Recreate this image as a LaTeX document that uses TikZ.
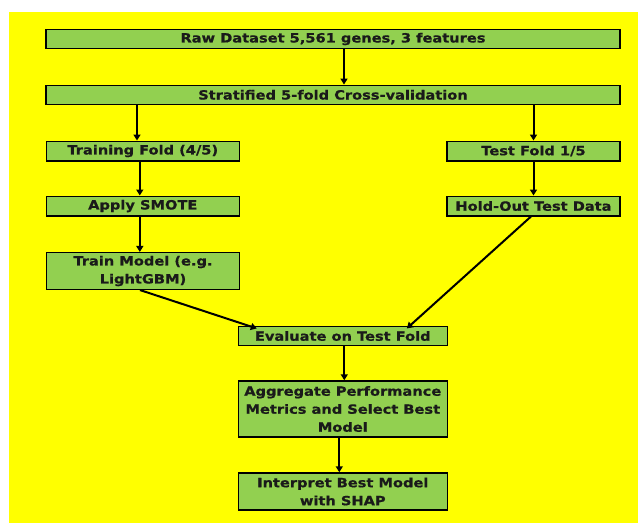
\documentclass[tikz,border=0pt]{standalone}
\usepackage{fontspec}
\setmainfont{DejaVu Sans}[BoldFeatures={FakeStretch=1.15,FakeBold=0.8}]
\usetikzlibrary{arrows.meta}
\definecolor{bgyellow}{HTML}{FFFF00}
\definecolor{boxgreen}{HTML}{92D050}
\definecolor{txt}{HTML}{1A1A1A}
\tikzset{
  flowbox/.style={draw=black, line width=1.5pt, fill=boxgreen, inner sep=0pt,
    align=center, font=\fontsize{12.7}{18}\selectfont\bfseries, text=txt},
  arr/.style={line width=2pt, -{Triangle[length=6pt,width=7pt]}}
}
\begin{document}
\begin{tikzpicture}[x=1pt,y=-1pt]
\useasboundingbox (0,0) rectangle (638,523);
\fill[white] (0,0) rectangle (638,523);
\fill[bgyellow] (8.5,12) rectangle (638,523);

\node[flowbox, minimum width=574pt, minimum height=19pt] (raw) at (333,39) {Raw Dataset 5,561 genes, 3 features};
\node[flowbox, minimum width=574pt, minimum height=19pt] (strat) at (333,94.8) {Stratified 5-fold Cross-validation};
\node[flowbox, minimum width=193pt, minimum height=19.5pt] (tf) at (142.8,151) {Training Fold (4/5)};
\node[flowbox, minimum width=173pt, minimum height=19.5pt] (test) at (533.5,151) {Test Fold 1/5};
\node[flowbox, minimum width=193pt, minimum height=19.5pt] (smote) at (142.8,206) {Apply SMOTE};
\node[flowbox, minimum width=173pt, minimum height=19.5pt] (hold) at (533.5,206) {Hold-Out Test Data};
\node[flowbox, minimum width=193pt, minimum height=36.6pt] (tm) at (143,271) {Train Model (e.g.\\LightGBM)};
\node[flowbox, minimum width=209pt, minimum height=18.6pt] (eval) at (342.8,336) {Evaluate on Test Fold};
\node[flowbox, minimum width=209pt, minimum height=56pt] (agg) at (342.8,409) {Aggregate Performance\\Metrics and Select Best\\Model};
\node[flowbox, minimum width=209pt, minimum height=37pt] (interp) at (342.8,491.5) {Interpret Best Model\\with SHAP};

\draw[arr] ([xshift=11pt]raw.south) -- ([xshift=11pt]raw.south |- strat.north);
\draw[arr] ([xshift=-5.8pt]tf.north |- strat.south) -- ([xshift=-5.8pt]tf.north);
\draw[arr] (test.north |- strat.south) -- (test.north);
\draw[arr] ([xshift=-3pt]tf.south) -- ([xshift=-3pt]smote.north);
\draw[arr] (test.south) -- (hold.north);
\draw[arr] ([xshift=-3pt]smote.south) -- ([xshift=-3.2pt]tm.north);
\draw[arr] ([xshift=-3pt]tm.south) -- ([xshift=-86pt,yshift=-2.5pt]eval.north);
\draw[arr] ([xshift=-2.5pt]hold.south) -- ([xshift=64pt,yshift=-2.5pt]eval.north);
\draw[arr] ([xshift=1.5pt]eval.south) -- ([xshift=1.5pt]agg.north);
\draw[arr] ([xshift=-3.5pt]agg.south) -- ([xshift=-3.5pt]interp.north);
\end{tikzpicture}
\end{document}
